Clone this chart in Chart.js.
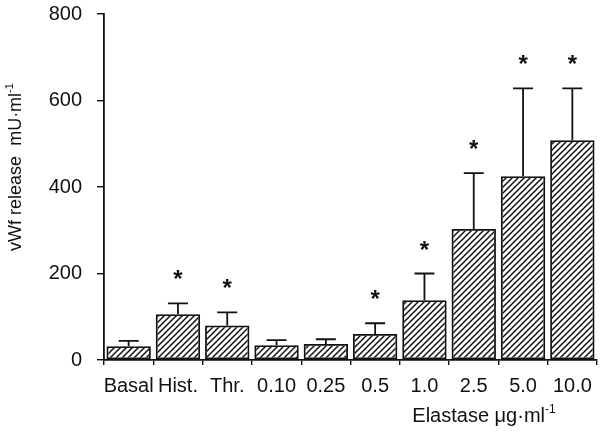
<!DOCTYPE html>
<html>
<head>
<meta charset="utf-8">
<script src="https://cdn.jsdelivr.net/npm/chart.js@4"></script>
<style>
  html, body { margin: 0; padding: 0; background: #fff; }
  #wrap { width: 603px; height: 436px; }
</style>
</head>
<body>
<div id="wrap"><canvas id="barChart" width="603" height="436"></canvas></div>
<script>
// datos
let categories = ["Basal", "Hist.", "Thr.", "0.10", "0.25", "0.5", "1.0", "2.5", "5.0", "10.0"]
let vwf_mean = [32, 106, 80, 34, 37, 60, 138, 303, 425, 508]
let vwf_sem = [12, 25, 30, 12, 11, 25, 62, 129, 203, 120]
let significant = [false, true, true, false, false, true, true, true, true, true]
let y_ticks = [0, 200, 400, 600, 800]

const FONT = "'Liberation Sans', Arial, Helvetica, sans-serif"

/** patron rayado para las barras */
function hatch(){
    let c = document.createElement("canvas")
    c.width = 6; c.height = 6
    let g = c.getContext("2d")
    g.strokeStyle = "#111"
    g.lineWidth = 1.5
    g.beginPath()
    g.moveTo(0, 6); g.lineTo(6, 0)
    g.moveTo(-1, 1); g.lineTo(1, -1)
    g.moveTo(5, 7); g.lineTo(7, 5)
    g.stroke()
    return g.createPattern(c, "repeat")
}

/** barras de error y asteriscos */
const errorBars = {
    id: "errorBars",
    afterDatasetsDraw(chart){
        let ctx = chart.ctx
        let y = chart.scales.y
        let meta = chart.getDatasetMeta(0)
        ctx.save()
        ctx.strokeStyle = "#111"
        ctx.fillStyle = "#111"
        ctx.lineWidth = 1.8
        meta.data.forEach(function(bar, i){
            let top = y.getPixelForValue(vwf_mean[i])
            let cap = y.getPixelForValue(vwf_mean[i] + vwf_sem[i])
            ctx.beginPath()
            ctx.moveTo(bar.x, top)
            ctx.lineTo(bar.x, cap)
            ctx.moveTo(bar.x - 10, cap)
            ctx.lineTo(bar.x + 10, cap)
            ctx.stroke()
            if (significant[i]){
                ctx.font = "bold 24px " + FONT
                ctx.textAlign = "center"
                ctx.textBaseline = "alphabetic"
                ctx.fillText("*", bar.x, cap - 16)
            }
        })
        ctx.restore()
    }
}

/** titulos de los ejes con superindice */
function supText(ctx, parts, x, y, size){
    // parts: [texto, superindice] alternando
    let w = 0
    parts.forEach(function(p, k){
        ctx.font = (k % 2 ? Math.round(size * 0.62) : size) + "px " + FONT
        w += ctx.measureText(p).width
    })
    let cx = x - w / 2
    parts.forEach(function(p, k){
        ctx.font = (k % 2 ? Math.round(size * 0.62) : size) + "px " + FONT
        ctx.textAlign = "left"
        ctx.textBaseline = "alphabetic"
        ctx.fillText(p, cx, k % 2 ? y - size * 0.45 : y)
        cx += ctx.measureText(p).width
    })
}

const axisTitles = {
    id: "axisTitles",
    afterDraw(chart){
        let ctx = chart.ctx
        ctx.save()
        ctx.fillStyle = "#111"
        ctx.translate(21, 167)
        ctx.rotate(-Math.PI / 2)
        supText(ctx, ["vWf release  mU\u00b7ml", "-1"], 0, 0, 18)
        ctx.restore()
        ctx.save()
        ctx.fillStyle = "#111"
        supText(ctx, ["Elastase \u03bcg\u00b7ml", "-1"], 484, 422, 20)
        ctx.restore()
    }
}

var ctx = document.getElementById("barChart").getContext("2d")
var barChart = new Chart(ctx, {
    type: "bar",
    data: {
        labels: categories,
        datasets: [{
            label: "vWf",
            data: vwf_mean,
            backgroundColor: hatch(),
            borderColor: "#111",
            borderWidth: 1.8,
            borderSkipped: false,
            barPercentage: 0.9,
            categoryPercentage: 1.0
        }]
    },
    options: {
        responsive: false,
        animation: false,
        devicePixelRatio: 1,
        layout: { padding: { top: 14, right: 6, left: 0, bottom: 0 } },
        plugins: { legend: { display: false }, tooltip: { enabled: false } },
        scales: {
            x: {
                offset: true,
                grid: { offset: true, drawOnChartArea: false, drawTicks: true, tickLength: 5, color: "#111", lineWidth: 1.4 },
                border: { color: "#111", width: 1.8 },
                ticks: { color: "#111", font: { family: FONT, size: 20 }, padding: 9, maxRotation: 0, autoSkip: false },
                afterFit(scale){ scale.height = 76 }
            },
            y: {
                min: 0,
                max: 800,
                afterBuildTicks(scale){ scale.ticks = y_ticks.map(v => ({ value: v })) },
                grid: { drawOnChartArea: false, drawTicks: true, tickLength: 7, color: "#111", lineWidth: 1.4 },
                border: { color: "#111", width: 1.8 },
                ticks: { color: "#111", font: { family: FONT, size: 20 }, padding: 15 },
                afterFit(scale){
                    scale.width = 104
                    scale.paddingTop = 0
                    scale.paddingBottom = 0
                }
            }
        }
    },
    plugins: [errorBars, axisTitles]
})
</script>
</body>
</html>
